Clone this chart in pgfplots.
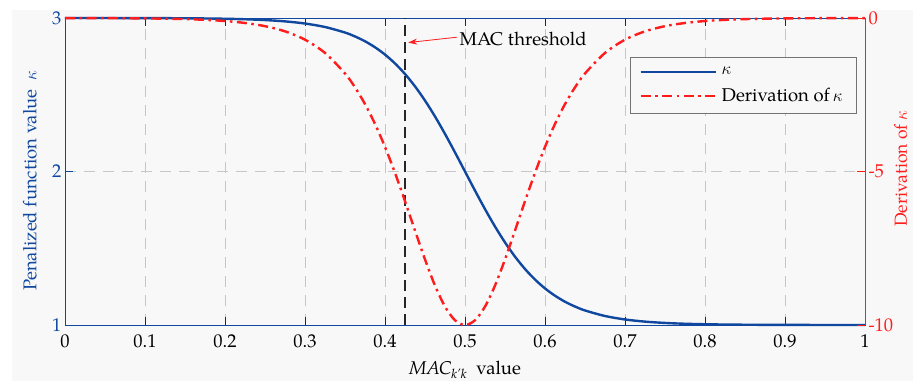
\documentclass[border=0pt]{standalone}
\usepackage{pgfplots}
\pgfplotsset{compat=1.18}
\usetikzlibrary{arrows.meta}
\usepackage{fontspec}
\setmainfont{TeX Gyre Pagella}
\definecolor{kblue}{RGB}{16,72,160}
\definecolor{kred}{RGB}{255,28,28}
\definecolor{bg}{RGB}{248,248,248}
\newcommand\ff{\fontsize{18.5}{22}\selectfont}
\begin{document}
\begin{tikzpicture}[font=\ff]
\fill[white] (-65pt,-56pt) rectangle (848pt,325pt);
\fill[bg] (-53pt,-56pt) rectangle (848pt,315pt);
\begin{axis}[
  at={(0pt,0pt)}, anchor=south west,
  scale only axis, width=800pt, height=307pt,
  xmin=0, xmax=1, ymin=1, ymax=3,
  xtick={0,0.1,0.2,0.3,0.4,0.5,0.6,0.7,0.8,0.9,1},
  xticklabels={0,0.1,0.2,0.3,0.4,0.5,0.6,0.7,0.8,0.9,1},
  ytick={1,2,3},
  ytick pos=left,
  tick align=inside,
  major tick length=8pt,
  /pgf/number format/assume math mode=true,
  x axis line style={black!85},
  y axis line style={kblue},
  xtick style={black!85},
  ytick style={kblue},
  yticklabel style={kblue},
  xticklabel style={yshift=-6pt},
  grid=major,
  major grid style={gray!45, dash pattern=on 11pt off 8pt},
  xlabel={\textit{MAC}\textsubscript{\textit{k'k}}\ \ value},
  ylabel={Penalized function value \ $\kappa$},
  every axis y label/.style={at={([xshift=-28pt]rel axis cs:0,0.47)}, rotate=90, anchor=south, inner sep=0pt, kblue},
  every axis x label/.style={at={([yshift=-36pt]rel axis cs:0.5,0)}, anchor=north, inner sep=0pt},
  clip=false,
]
\addplot[kblue, line width=2.4pt, smooth] coordinates {
(0,2.9999) (0.025,2.9999) (0.05,2.9998) (0.075,2.9996) (0.1,2.9993)
(0.125,2.9989) (0.15,2.9982) (0.175,2.9970) (0.2,2.9951) (0.225,2.9919)
(0.25,2.9866) (0.275,2.9780) (0.3,2.9640) (0.325,2.9414) (0.35,2.9052)
(0.3625,2.8798) (0.375,2.8483) (0.3875,2.8093) (0.4,2.7616) (0.4125,2.7039)
(0.425,2.6352) (0.4375,2.5546) (0.45,2.4621) (0.4625,2.3584) (0.475,2.2449)
(0.4875,2.1244) (0.5,2.0) (0.5125,1.8756) (0.525,1.7551) (0.5375,1.6416)
(0.55,1.5379) (0.5625,1.4454) (0.575,1.3648) (0.5875,1.2961) (0.6,1.2384)
(0.6125,1.1907) (0.625,1.1517) (0.6375,1.1202) (0.65,1.0948) (0.675,1.0586)
(0.7,1.0360) (0.725,1.0220) (0.75,1.0134) (0.775,1.0081) (0.8,1.0049)
(0.825,1.0030) (0.85,1.0018) (0.875,1.0011) (0.9,1.0007) (0.925,1.0004)
(0.95,1.0002) (0.975,1.0001) (1,1.0001)
};
\addplot[black!85, line width=2pt, dash pattern=on 11pt off 6pt] coordinates {(0.425,1) (0.425,3)};
\draw[kred, line width=0.8pt, -{Stealth[length=9pt,width=6pt]}] (axis cs:0.490,2.875) -- (axis cs:0.429,2.84);
\node[anchor=west, inner sep=0pt] at (axis cs:0.493,2.865) {MAC threshold};
\end{axis}
\begin{axis}[
  at={(0pt,0pt)}, anchor=south west,
  scale only axis, width=800pt, height=307pt,
  xmin=0, xmax=1, ymin=-10, ymax=0,
  axis x line=none,
  axis y line*=right,
  ytick={-10,-5,0},
  tick align=inside,
  major tick length=8pt,
  /pgf/number format/assume math mode=true,
  y axis line style={kred, line width=0.8pt},
  ytick style={kred},
  yticklabel style={kred},
  ylabel={Derivation of $\kappa$},
  every axis y label/.style={at={([xshift=29pt]rel axis cs:1,0.51)}, rotate=90, anchor=north, inner sep=0pt, kred, font=\fontsize{17.5}{20}\selectfont},
  clip=false,
  legend style={at={(rel axis cs:0.99,0.873)}, anchor=north east, draw=black!55, fill=bg,
    font=\ff, row sep=8pt, inner xsep=9pt, inner ysep=8pt, line width=0.8pt,
    nodes={inner xsep=5pt}},
  legend cell align=left,
  legend image code/.code={\draw[#1] (0pt,0pt) -- (75pt,0pt);},
]
\addlegendimage{kblue, line width=2.4pt}
\addlegendentry{$\kappa$}
\addplot[kred, line width=2.4pt, smooth, dash pattern=on 10pt off 4.5pt on 2.5pt off 4.5pt] coordinates {
(0,-0.0018) (0.025,-0.0030) (0.05,-0.0049) (0.075,-0.0081) (0.1,-0.0134)
(0.125,-0.0221) (0.15,-0.0364) (0.175,-0.0600) (0.2,-0.0987) (0.225,-0.1621)
(0.25,-0.2659) (0.275,-0.4346) (0.3,-0.7065) (0.325,-1.1381) (0.35,-1.8071)
(0.3625,-2.2590) (0.375,-2.8041) (0.3875,-3.4503) (0.4,-4.1998) (0.4125,-5.0452)
(0.425,-5.9659) (0.4375,-6.9242) (0.45,-7.8645) (0.4625,-8.7158) (0.475,-9.4002)
(0.4875,-9.8454) (0.5,-10) (0.5125,-9.8454) (0.525,-9.4002) (0.5375,-8.7158)
(0.55,-7.8645) (0.5625,-6.9242) (0.575,-5.9659) (0.5875,-5.0452) (0.6,-4.1998)
(0.6125,-3.4503) (0.625,-2.8041) (0.6375,-2.2590) (0.65,-1.8071) (0.675,-1.1381)
(0.7,-0.7065) (0.725,-0.4346) (0.75,-0.2659) (0.775,-0.1621) (0.8,-0.0987)
(0.825,-0.0600) (0.85,-0.0364) (0.875,-0.0221) (0.9,-0.0134) (0.925,-0.0081)
(0.95,-0.0049) (0.975,-0.0030) (1,-0.0018)
};
\addlegendentry{Derivation of\,$\kappa$}
\end{axis}
\pgfresetboundingbox
\useasboundingbox (-65pt,-56pt) rectangle (848pt,325pt);
\end{tikzpicture}
\end{document}
